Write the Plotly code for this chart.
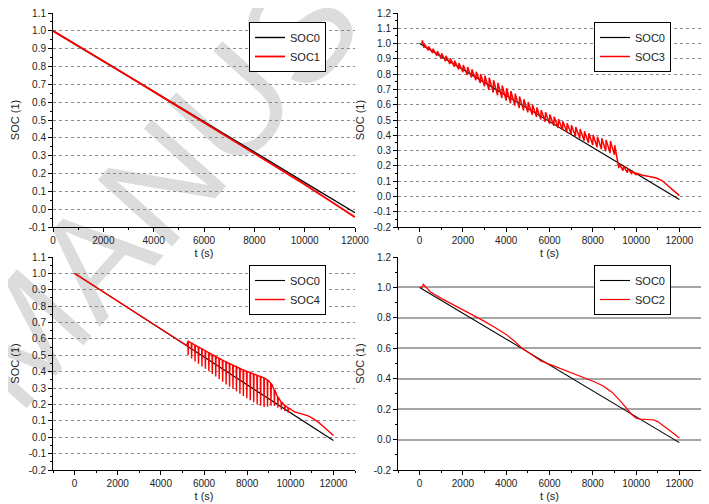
import plotly.graph_objects as go

# ---------------- data ----------------
t_ref = [0, 12000]
soc0 = [1.0, -0.02]

t_soc1 = [0, 1000, 2000, 3000, 4000, 5000, 6000, 7000, 8000, 9000, 10000, 11000, 12000]
soc1 = [1.0, 0.916, 0.831, 0.745, 0.659, 0.573, 0.487, 0.400, 0.313, 0.226, 0.139, 0.047, -0.045]

# SOC3: start, sawtooth teeth (trough then jump to peak), tail
soc3_start_t = [100, 130]
soc3_start_v = [1.0, 1.02]
soc3_tooth_t = [200, 400, 600, 800, 1000, 1200, 1400, 1600, 1800, 2000,
                2200, 2400, 2600, 2800, 3000, 3200, 3400, 3600, 3800, 4000,
                4200, 4400, 4600, 4800, 5000, 5200, 5400, 5600, 5800, 6000,
                6200, 6400, 6600, 6800, 7000, 7200, 7400, 7600, 7800, 8000,
                8200, 8400, 8600, 8800, 9000, 9200, 9400, 9600, 9800, 10000]
soc3_low = [0.972, 0.955, 0.938, 0.920, 0.902, 0.884, 0.866, 0.849, 0.831, 0.812,
            0.795, 0.778, 0.760, 0.742, 0.720, 0.698, 0.680, 0.662, 0.644, 0.627,
            0.610, 0.594, 0.578, 0.563, 0.550, 0.535, 0.520, 0.504, 0.488, 0.475,
            0.462, 0.448, 0.435, 0.421, 0.408, 0.394, 0.379, 0.365, 0.350, 0.336,
            0.322, 0.308, 0.296, 0.284, 0.272, 0.185, 0.168, 0.156, 0.146, 0.140]
soc3_high = [0.998, 0.982, 0.966, 0.950, 0.936, 0.920, 0.904, 0.889, 0.873, 0.860,
             0.846, 0.832, 0.816, 0.801, 0.790, 0.776, 0.760, 0.744, 0.726, 0.708,
             0.690, 0.672, 0.654, 0.636, 0.618, 0.600, 0.582, 0.566, 0.550, 0.536,
             0.521, 0.506, 0.492, 0.478, 0.466, 0.454, 0.441, 0.427, 0.414, 0.402,
             0.391, 0.380, 0.370, 0.362, 0.335, 0.215, 0.200, 0.185, 0.168, 0.152]
soc3_tail_t = [10300, 10600, 10900, 11200, 11500, 11800, 12000]
soc3_tail_v = [0.138, 0.131, 0.122, 0.104, 0.068, 0.032, 0.005]

# SOC4: smooth start, large teeth (peak, dip, recover), tail
soc4_start_t = [0, 1000, 2000, 3000, 4000, 5000, 5200]
soc4_start_v = [1.0, 0.915, 0.832, 0.748, 0.663, 0.577, 0.560]
soc4_tooth_t = [5250, 5410, 5570, 5730, 5890, 6050, 6210, 6370, 6530, 6690,
                6850, 7010, 7170, 7330, 7490, 7650, 7810, 7970, 8130, 8290,
                8450, 8610, 8770, 8930, 9090, 9250, 9410, 9570, 9730, 9890]
soc4_high = [0.585, 0.575, 0.562, 0.550, 0.540, 0.528, 0.516, 0.504, 0.492, 0.481,
             0.470, 0.459, 0.449, 0.440, 0.430, 0.420, 0.410, 0.402, 0.394, 0.386,
             0.378, 0.370, 0.362, 0.350, 0.330, 0.290, 0.245, 0.215, 0.195, 0.180]
soc4_low = [0.500, 0.480, 0.462, 0.448, 0.432, 0.418, 0.402, 0.386, 0.370, 0.354,
            0.338, 0.322, 0.308, 0.294, 0.280, 0.266, 0.252, 0.238, 0.226, 0.214,
            0.202, 0.192, 0.184, 0.186, 0.192, 0.190, 0.180, 0.168, 0.160, 0.150]
soc4_tail_t = [10200, 10500, 10800, 11000, 11300, 11600, 11800, 12000]
soc4_tail_v = [0.155, 0.145, 0.132, 0.118, 0.092, 0.058, 0.035, 0.010]

t_soc2 = [0, 100, 170, 500, 1000, 1500, 2000, 2500, 3000, 3500, 4000, 4400, 4700,
          5100, 5600, 6100, 6600, 7100, 7600, 8100, 8500, 8900, 9300, 9600, 9800,
          10000, 10200, 10500, 10800, 11000, 11300, 11600, 12000]
soc2 = [1.0, 1.0, 1.02, 0.970, 0.928, 0.890, 0.854, 0.818, 0.777, 0.735, 0.690, 0.645, 0.604,
        0.565, 0.517, 0.489, 0.462, 0.437, 0.410, 0.378, 0.350, 0.310, 0.250, 0.200, 0.165,
        0.140, 0.134, 0.132, 0.130, 0.118, 0.088, 0.055, 0.010]

# tick values (labels) per panel
x_ticks = [0, 2000, 4000, 6000, 8000, 10000, 12000]
y_ticks_tl = [-0.1, 0.0, 0.1, 0.2, 0.3, 0.4, 0.5, 0.6, 0.7, 0.8, 0.9, 1.0, 1.1]
y_ticks_tr = [-0.2, -0.1, 0.0, 0.1, 0.2, 0.3, 0.4, 0.5, 0.6, 0.7, 0.8, 0.9, 1.0, 1.1, 1.2]
y_ticks_bl = [-0.2, -0.1, 0.0, 0.1, 0.2, 0.3, 0.4, 0.5, 0.6, 0.7, 0.8, 0.9, 1.0, 1.1]
y_ticks_br = [-0.2, 0.0, 0.2, 0.4, 0.6, 0.8, 1.0, 1.2]

JUMP = 15  # s, duration of each estimator jump

def build_saw(start_t, start_v, tt, lo, hi, tail_t, tail_v):
    xs, ys = list(start_t), list(start_v)
    for t, a, b in zip(tt, lo, hi):
        xs += [t, t + JUMP]
        ys += [a, b]
    return xs + list(tail_t), ys + list(tail_v)

def build_spikes(start_t, start_v, tt, hi, lo, tail_t, tail_v):
    xs, ys = list(start_t), list(start_v)
    for t, a, b in zip(tt, hi, lo):
        xs += [t, t + JUMP, t + 2 * JUMP]
        ys += [a, b, a]
    return xs + list(tail_t), ys + list(tail_v)

t_soc3, soc3 = build_saw(soc3_start_t, soc3_start_v, soc3_tooth_t, soc3_low, soc3_high,
                         soc3_tail_t, soc3_tail_v)
t_soc4, soc4 = build_spikes(soc4_start_t, soc4_start_v, soc4_tooth_t, soc4_high, soc4_low,
                            soc4_tail_t, soc4_tail_v)

# ---------------- figure ----------------
FONT = "Liberation Sans, Arial, sans-serif"
W, H = 701, 496          # page body has an 8 px margin
OFF = 8

def px_x(a, b):
    return [(a - OFF) / W, (b - OFF) / W]

def px_y(top, bottom):
    return [(H + OFF - bottom) / H, (H + OFF - top) / H]

fig = go.Figure()

panels = [
    ("x", "y", "legend", "SOC1", t_soc1, soc1, 1.8, 1.4),
    ("x2", "y2", "legend2", "SOC3", t_soc3, soc3, 1.5, 1.2),
    ("x3", "y3", "legend3", "SOC4", t_soc4, soc4, 1.4, 1.1),
    ("x4", "y4", "legend4", "SOC2", t_soc2, soc2, 1.2, 1.1),
]
for xa, ya, lg, name, tx, vy, wr, wb in panels:
    fig.add_trace(go.Scatter(x=t_ref, y=soc0, mode="lines", name="SOC0",
                             line=dict(color="black", width=wb),
                             xaxis=xa, yaxis=ya, legend=lg))
    fig.add_trace(go.Scatter(x=tx, y=vy, mode="lines", name=name,
                             line=dict(color="#ff0000", width=wr),
                             xaxis=xa, yaxis=ya, legend=lg))

def xaxis(domain, rng, anchor):
    return dict(domain=domain, range=rng, anchor=anchor,
                tickmode="array", tickvals=x_ticks, ticktext=[str(v) for v in x_ticks],
                automargin=False, ticklabeloverflow="allow",
                showline=True, linecolor="black", linewidth=1, mirror=False,
                ticks="outside", ticklen=4, tickcolor="black", tickwidth=1,
                minor=dict(ticks="outside", ticklen=2, tickcolor="black",
                           tickmode="linear", tick0=0, dtick=1000),
                showgrid=False, zeroline=False,
                tickfont=dict(size=10, color="#222", family=FONT),
                title=dict(text="t (s)", font=dict(size=11, color="#222", family=FONT), standoff=4))

def yaxis(domain, ticks, anchor, mdtick, griddash, gridcolor, gridwidth):
    return dict(domain=domain, range=[ticks[0], ticks[-1]], anchor=anchor,
                tickmode="array", tickvals=ticks, ticktext=["%.1f" % v for v in ticks],
                automargin=False, ticklabeloverflow="allow",
                showline=True, linecolor="black", linewidth=1, mirror=False,
                ticks="outside", ticklen=4, tickcolor="black", tickwidth=1,
                minor=dict(ticks="outside", ticklen=2, tickcolor="black",
                           tickmode="linear", tick0=0, dtick=mdtick),
                showgrid=True, gridcolor=gridcolor, griddash=griddash, gridwidth=gridwidth,
                zeroline=False,
                tickfont=dict(size=10, color="#222", family=FONT),
                title=dict(text="SOC (1)", font=dict(size=11, color="#222", family=FONT), standoff=6))

dx_l = px_x(53, 355)
dx_r = px_x(398, 701)
dy_t = px_y(13, 227)
dy_b = px_y(257, 470)

def legend(xr, ytop):
    return dict(x=(xr - OFF) / W, y=(H + OFF - ytop) / H, xanchor="right", yanchor="top",
                bgcolor="white", bordercolor="black", borderwidth=1, tracegroupgap=0,
                font=dict(size=11, color="#222", family=FONT))

fig.update_layout(
    width=W, height=H, margin=dict(l=0, r=0, t=0, b=0),
    paper_bgcolor="white", plot_bgcolor="rgba(0,0,0,0)",
    font=dict(family=FONT, size=10, color="#222"),
    showlegend=True,
    xaxis=xaxis(dx_l, [0, 12000], "y"),
    yaxis=yaxis(dy_t, y_ticks_tl, "x", 0.05, "dot", "#8c8c8c", 1),
    xaxis2=xaxis(dx_r, [-1000, 13000], "y2"),
    yaxis2=yaxis(dy_t, y_ticks_tr, "x2", 0.05, "dot", "#8c8c8c", 1),
    xaxis3=xaxis(dx_l, [-1000, 13000], "y3"),
    yaxis3=yaxis(dy_b, y_ticks_bl, "x3", 0.05, "dot", "#8c8c8c", 1),
    xaxis4=xaxis(dx_r, [-1000, 13000], "y4"),
    yaxis4=yaxis(dy_b, y_ticks_br, "x4", 0.1, "solid", "#a6a6a6", 1.5),
    legend=legend(326, 22),
    legend2=legend(671, 22),
    legend3=legend(326, 265),
    legend4=legend(671, 265),
    shapes=[dict(type="rect", xref="paper", yref="paper",
                 x0=0.303, x1=0.506, y0=0.93, y1=1.03,
                 line=dict(width=0), fillcolor="rgba(0,0,0,0)", layer="below",
                 label=dict(text="MANUSCRIPT", textangle=-48, textposition="middle center",
                            font=dict(size=145, color="#dcdcdc", family=FONT)))],
)

fig.write_html("out.html")
